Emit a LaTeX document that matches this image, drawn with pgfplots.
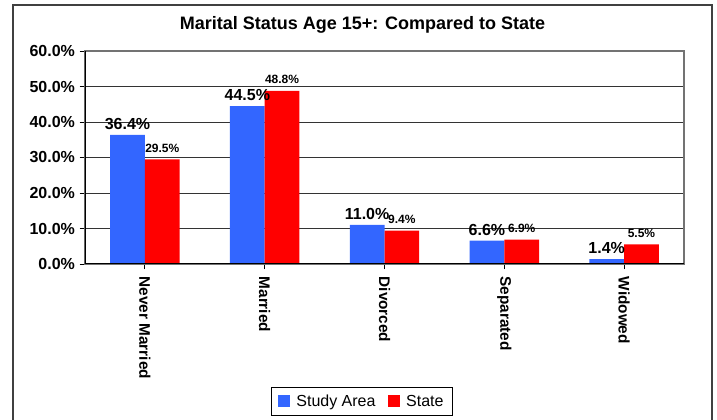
\documentclass[border=0pt]{standalone}
\usepackage{fontspec}
\setmainfont{Liberation Sans}
\usepackage{pgfplots}
\pgfplotsset{compat=1.18}

\definecolor{studyblue}{HTML}{3366FF}
\definecolor{statered}{HTML}{FF0000}

\begin{document}
\begin{tikzpicture}[x=0.75pt,y=0.75pt]
% axis box south west corner sits at (0,0); page = 717 x 420 px, axis box at px (85,156) from bottom left
\begin{axis}[
 scale only axis,
 width=449.25pt, height=159.75pt,
 ybar=0pt,
 bar width=0.29,
 xmin=-0.5, xmax=4.5,
 ymin=0, ymax=60,
 xtick=data,
 xtick pos=bottom, ytick pos=left,
 xticklabels={Never Married,Married,Divorced,Separated,Widowed},
 xticklabel style={rotate=-90, anchor=west, font=\fontsize{11.5}{13}\selectfont\bfseries, xshift=2pt},
 ytick={0,10,...,60},
 yticklabel={\pgfmathprintnumber[fixed,fixed zerofill,precision=1]{\tick}\%},
 yticklabel style={font=\fontsize{12}{14}\selectfont\bfseries},
 /pgf/number format/assume math mode=true,
 tick align=outside,
 major tick length=4pt,
 tick style={black, line width=0.7pt},
 ymajorgrids=true,
 grid style={black!80, line width=0.7pt},
 axis line style={draw=black!55, line width=1.1pt},
 legend columns=2,
 legend style={at={(0.4624,-0.6455)}, anchor=center, draw=black, line width=0.7pt,
  font=\fontsize{12}{14}\selectfont, inner xsep=5pt, inner ysep=3.5pt,
  /tikz/every odd column/.append style={column sep=3pt},
  /tikz/every even column/.append style={column sep=7pt}},
 legend image code/.code={\fill[#1] (0pt,-4.5pt) rectangle (9pt,4.5pt);},
 nodes near coords={\pgfmathprintnumber[fixed,fixed zerofill,precision=1]{\pgfplotspointmeta}\%},
]
\addplot[fill=studyblue, draw=none,
 every node near coord/.append style={font=\fontsize{12}{14}\selectfont\bfseries, anchor=south, yshift=0.5pt}]
 coordinates {(0,36.4) (1,44.5) (2,11.0) (3,6.6) (4,1.4)};
\addplot[fill=statered, draw=none,
 every node near coord/.append style={font=\fontsize{9}{11}\selectfont\bfseries, anchor=south, yshift=1.5pt}]
 coordinates {(0,29.5) (1,48.8) (2,9.4) (3,6.9) (4,5.5)};
\legend{Study Area, State}
\draw[black, line width=1.3pt] (rel axis cs:0,1) -- (rel axis cs:0,0) -- (rel axis cs:1,0);
\end{axis}
\draw[black!75, line width=1.1pt] (13-85,-170) -- (13-85,415-156) -- (712-85,415-156) -- (712-85,-170);
\node[anchor=base, font=\fontsize{13.5}{16}\selectfont\bfseries] at (362.5-85,390-156)
 {Marital Status Age 15+: Compared to State};
\pgfresetboundingbox
\path[use as bounding box] (-85,-156) rectangle (717-85,420-156);
\end{tikzpicture}
\end{document}
